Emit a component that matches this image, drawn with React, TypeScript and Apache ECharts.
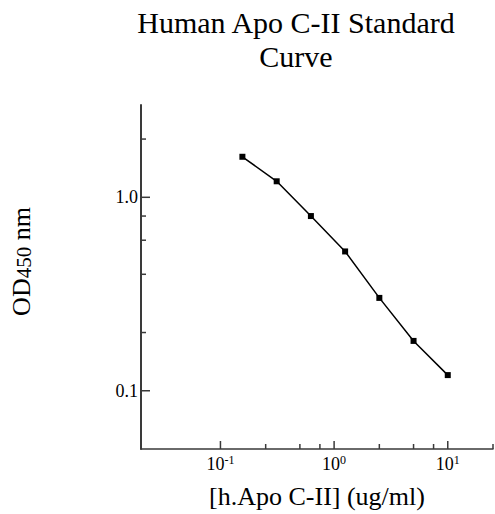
import React, { useEffect, useRef } from 'react';
import * as echarts from 'echarts';

const concentrations = [0.156, 0.3125, 0.625, 1.25, 2.5, 5, 10];
const odValues = [1.62, 1.21, 0.8, 0.525, 0.302, 0.181, 0.1205];
const xRange = [0.02, 25];
const yRange = [0.05, 3];
const xMajorTicks = [0.1, 1, 10];
const xMinorTicks = [0.25, 0.5, 0.75, 2.5, 5, 7.5, 25];
const yMajorTicks = [0.1, 1];
const yMinorTicks = [0.2, 0.4, 0.6, 0.8, 2];
const titleText = 'Human Apo C-II Standard\nCurve';
const xName = '[h.Apo C-II] (ug/ml)';
const yName = 'OD{sub|450} nm';

const FONT = '"Liberation Serif", "Times New Roman", serif';
const AXIS_COLOR = '#3a3a3a';

const isPow10 = (v: number) => {
  const l = Math.log10(v);
  return Math.abs(l - Math.round(l)) < 1e-6;
};

function tickSeries(vals: number[], dir: 'x' | 'y', len: number) {
  return {
    type: 'custom',
    coordinateSystem: 'cartesian2d',
    silent: true,
    clip: false,
    z: 3,
    data: vals.map((v) => (dir === 'x' ? [v, yRange[0]] : [xRange[0], v])),
    renderItem: (_params: any, api: any) => {
      const p = api.coord([api.value(0), api.value(1)]);
      const shape =
        dir === 'x'
          ? { x1: p[0], y1: p[1], x2: p[0], y2: p[1] - len }
          : { x1: p[0], y1: p[1], x2: p[0] + len, y2: p[1] };
      return { type: 'line', shape, style: { stroke: AXIS_COLOR, lineWidth: 1.5 } };
    },
  };
}

export default function App() {
  const ref = useRef<HTMLDivElement>(null);
  useEffect(() => {
    if (!ref.current) return;
    const chart = echarts.init(ref.current, undefined, { renderer: 'svg' });
    chart.setOption({
      animation: false,
      backgroundColor: '#ffffff',
      graphic: [
        {
          type: 'text',
          x: 296,
          y: 5,
          style: {
            text: titleText,
            fill: '#000',
            font: `30px ${FONT}`,
            lineHeight: 34,
            textAlign: 'center',
            textVerticalAlign: 'top',
          },
        },
      ],
      grid: { left: 139, right: 2, top: 105, bottom: 65, containLabel: false },
      xAxis: {
        type: 'log',
        logBase: 10,
        min: xRange[0],
        max: xRange[1],
        name: xName,
        nameLocation: 'middle',
        nameGap: 34,
        nameTextStyle: { fontFamily: FONT, fontSize: 26, color: '#000' },
        axisLine: { show: true, lineStyle: { color: AXIS_COLOR, width: 1.5 } },
        axisTick: { show: false },
        splitLine: { show: false },
        minorTick: { show: false },
        axisLabel: {
          margin: 5,
          fontFamily: FONT,
          fontSize: 18,
          color: '#000',
          lineHeight: 20,
          showMinLabel: false,
          showMaxLabel: false,
          formatter: (v: number) => (isPow10(v) ? `10{sup|${Math.round(Math.log10(v))}}` : ''),
          rich: {
            sup: { fontSize: 12, fontFamily: FONT, color: '#000', verticalAlign: 'top', lineHeight: 12 },
          },
        },
      },
      yAxis: {
        type: 'log',
        logBase: 10,
        min: yRange[0],
        max: yRange[1],
        name: yName,
        nameLocation: 'middle',
        nameGap: 107,
        nameRotate: 90,
        nameTextStyle: {
          fontFamily: FONT,
          fontSize: 26,
          color: '#000',
          padding: [0, 0, 0, 31],
          rich: {
            sub: { fontSize: 21, fontFamily: FONT, color: '#000', verticalAlign: 'bottom' },
          },
        },
        axisLine: { show: true, lineStyle: { color: AXIS_COLOR, width: 2 } },
        axisTick: { show: false },
        splitLine: { show: false },
        minorTick: { show: false },
        axisLabel: {
          margin: 3,
          fontFamily: FONT,
          fontSize: 18,
          color: '#000',
          showMinLabel: false,
          showMaxLabel: false,
          formatter: (v: number) => (isPow10(v) ? v.toFixed(1) : ''),
        },
      },
      series: [
        {
          type: 'line',
          data: concentrations.map((c, i) => [c, odValues[i]]),
          symbol: 'rect',
          symbolSize: 6,
          itemStyle: { color: '#000' },
          lineStyle: { color: '#000', width: 1.5 },
          z: 4,
        },
        tickSeries(xMajorTicks, 'x', 8),
        tickSeries(xMinorTicks, 'x', 5),
        tickSeries(yMajorTicks, 'y', 9),
        tickSeries(yMinorTicks, 'y', 5),
      ],
    });
    return () => chart.dispose();
  }, []);
  return (
    <div
      ref={ref}
      style={{ position: 'fixed', left: 0, top: 0, width: 495, height: 514, background: '#fff' }}
    />
  );
}
